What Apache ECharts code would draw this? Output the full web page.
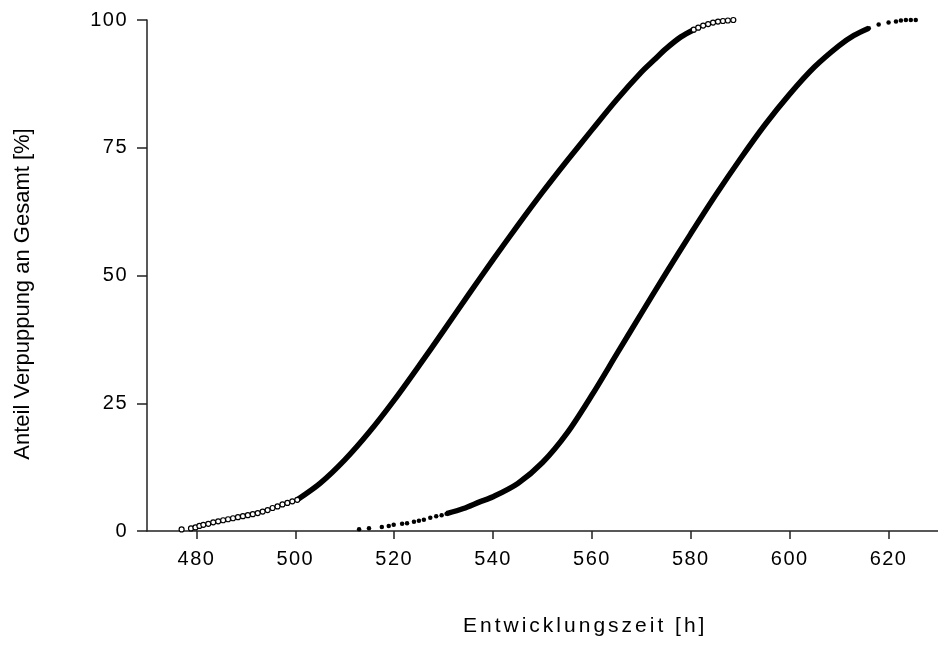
<!DOCTYPE html>
<html>
<head>
<meta charset="utf-8">
<script src="https://cdn.jsdelivr.net/npm/echarts@6/dist/echarts.min.js"></script>
<style>
  html, body { margin: 0; padding: 0; background: #fff; }
  #chart { width: 938px; height: 646px; }
</style>
</head>
<body>
<div id="chart"></div>
<script>
// Tick labels
const xTicks = [480, 500, 520, 540, 560, 580, 600, 620];
const yTicks = [0, 25, 50, 75, 100];

// Axis titles
const xTitle = 'Entwicklungszeit [h]';
const yTitle = 'Anteil Verpuppung an Gesamt [%]';

// Group A (open circles): sparse individual records at both ends
const aDotsX = [477.0, 478.9, 479.8, 480.6, 481.4, 482.4, 483.4, 484.4, 485.4, 486.4, 487.4, 488.4,
                489.4, 490.4, 491.4, 492.4, 493.4, 494.4, 495.4, 496.4, 497.4, 498.4, 499.4, 500.4,
                580.6, 581.5, 582.5, 583.5, 584.5, 585.5, 586.5, 587.5, 588.6];
const aDotsY = [0.3, 0.5, 0.7, 1.0, 1.2, 1.4, 1.7, 1.9, 2.1, 2.3, 2.5, 2.7,
                2.9, 3.1, 3.3, 3.5, 3.8, 4.1, 4.5, 4.8, 5.2, 5.5, 5.8, 6.1,
                98.1, 98.5, 98.9, 99.2, 99.5, 99.7, 99.8, 99.9, 100];
// Group A: dense middle part of the cumulative curve
const aCurveX = [500.4, 505, 510, 515, 520, 525, 530, 535, 540, 545, 550, 555, 560, 565, 570, 572.6, 575, 578, 580.6];
const aCurveY = [6.1, 9.3, 13.9, 19.4, 25.6, 32.3, 39.2, 46.2, 53.1, 59.8, 66.3, 72.5, 78.5, 84.4, 89.8, 92.2, 94.4, 96.7, 98.1];

// Group B (filled dots): sparse individual records at both ends
const bDotsX = [512.9, 514.9, 517.5, 518.9, 519.9, 521.6, 522.6, 524.0, 525.0, 526.0, 527.3, 528.5,
                529.6, 530.6, 616.0, 618.0, 620.0, 621.5, 622.5, 623.5, 624.5, 625.5];
const bDotsY = [0.33, 0.53, 0.8, 1.0, 1.2, 1.4, 1.5, 1.8, 2.0, 2.2, 2.6, 2.9,
                3.1, 3.4, 98.4, 99.1, 99.5, 99.7, 99.9, 100, 100, 100];
// Group B: dense middle part of the cumulative curve
const bCurveX = [530.6, 534, 537.3, 540, 545, 550, 555, 560, 565, 570, 575, 580, 585, 590, 595, 600, 605, 610, 613, 616];
const bCurveY = [3.4, 4.4, 5.7, 6.7, 9.3, 13.4, 19.2, 26.6, 34.6, 42.6, 50.5, 58.2, 65.7, 72.8, 79.5, 85.5, 90.8, 95.0, 97.0, 98.4];

const zip = (xs, ys) => xs.map((x, i) => [x, ys[i]]);

const FONT = '"Liberation Sans", Arial, sans-serif';
const INK = '#000';

// The horizontal axis title and the tick numbers are typeset with widened tracking.
const tracking = new Map([[xTitle, '3px']]);
xTicks.concat(yTicks).forEach(v => tracking.set(String(v), '1.5px'));
const baseFillText = CanvasRenderingContext2D.prototype.fillText;
CanvasRenderingContext2D.prototype.fillText = function (text, x, y, maxWidth) {
  const sp = tracking.get(String(text));
  const draw = () => (maxWidth === undefined
    ? baseFillText.call(this, text, x, y)
    : baseFillText.call(this, text, x, y, maxWidth));
  if (!sp || !('letterSpacing' in this)) return draw();
  this.save();
  this.letterSpacing = sp;
  const r = draw();
  this.restore();
  return r;
};

const chart = echarts.init(document.getElementById('chart'), null, { renderer: 'canvas' });

chart.setOption({
  backgroundColor: '#fff',
  animation: false,
  grid: { left: 147, top: 20, width: 800, height: 511, containLabel: false },
  xAxis: {
    type: 'value', min: 470, max: 630,
    splitLine: { show: false },
    axisLine: { onZero: false, lineStyle: { color: '#222', width: 1.5 } },
    axisTick: { customValues: xTicks, length: 8, inside: false, lineStyle: { color: '#222', width: 1.5 } },
    axisLabel: { customValues: xTicks, margin: 18, color: INK, fontFamily: FONT, fontSize: 20 }
  },
  yAxis: {
    type: 'value', min: 0, max: 100, interval: 25,
    splitLine: { show: false },
    axisLine: { show: true, lineStyle: { color: '#222', width: 1.5 } },
    axisTick: { show: true, length: 10, inside: false, lineStyle: { color: '#222', width: 1.5 } },
    axisLabel: { customValues: yTicks, margin: 19, color: INK, fontFamily: FONT, fontSize: 20 }
  },
  graphic: [
    { type: 'text', x: 463, y: 616, style: { text: xTitle, font: '21px ' + FONT, fill: INK, verticalAlign: 'top' } },
    { type: 'text', x: 12, y: 294, rotation: Math.PI / 2,
      style: { text: yTitle, font: '22px ' + FONT, fill: INK, align: 'center', verticalAlign: 'top' } }
  ],
  series: [
    {
      type: 'line', data: zip(aCurveX, aCurveY), smooth: 0.3, showSymbol: false,
      lineStyle: { color: '#000', width: 5.5 }, z: 2
    },
    {
      type: 'scatter', data: zip(aDotsX, aDotsY), symbol: 'circle', symbolSize: 5,
      itemStyle: { color: '#fff', borderColor: '#000', borderWidth: 1.2, opacity: 1 }, z: 3
    },
    {
      type: 'line', data: zip(bCurveX, bCurveY), smooth: 0.3, showSymbol: false,
      lineStyle: { color: '#000', width: 5.5 }, z: 2
    },
    {
      type: 'scatter', data: zip(bDotsX, bDotsY), symbol: 'circle', symbolSize: 4.5,
      itemStyle: { color: '#000', opacity: 1 }, z: 3
    }
  ]
});
</script>
</body>
</html>
